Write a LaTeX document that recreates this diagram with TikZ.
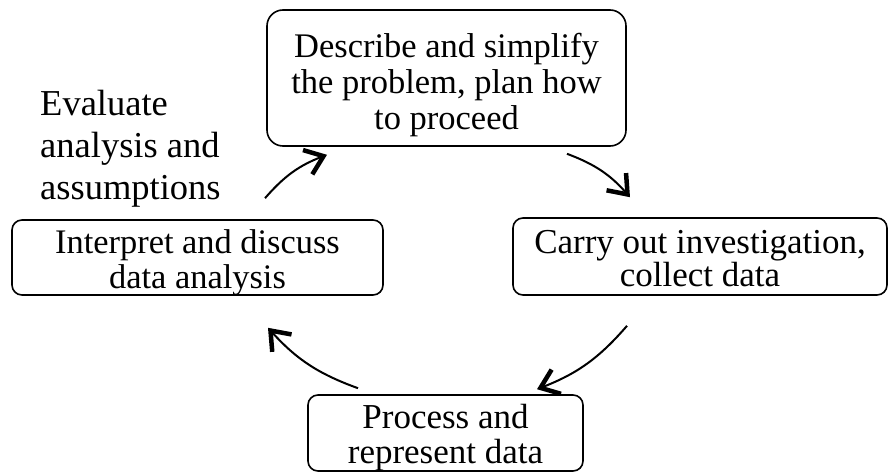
\documentclass[tikz,border=0pt]{standalone}
\usepackage{fontspec}
\setmainfont{Liberation Serif}
\usetikzlibrary{arrows.meta,calc}
\begin{document}
\begin{tikzpicture}[x=1pt,y=-1pt,
  box/.style={draw, line width=1.6pt, rounded corners=10pt, align=center, inner sep=0pt,
    text depth=0pt},
  arr/.style={line width=2pt, -{Straight Barb[length=17pt,width=26pt,line width=4.5pt]}, bend left=14},
  lab/.style={align=left, inner sep=0pt, font=\fontsize{36.5}{42}\selectfont}]
\useasboundingbox (0,0) rectangle (889,473);
\node[box, minimum width=359pt, minimum height=136pt, rounded corners=16pt,
  font=\fontsize{34.5}{36}\selectfont, text height=104pt] (desc) at (446.5,78)
  {Describe and simplify\\the problem, plan how\\to proceed};
\node[box, minimum width=374pt, minimum height=77pt,
  font=\fontsize{35}{31}\selectfont, text height=59pt] (carry) at (700,256.5)
  {Carry out investigation,\\collect data};
\node[box, minimum width=275pt, minimum height=76pt,
  font=\fontsize{35}{35}\selectfont, text height=60pt] (proc) at (445.5,433)
  {Process and\\represent data};
\node[box, minimum width=371pt, minimum height=75pt,
  font=\fontsize{34.4}{35}\selectfont, text height=61.6pt] (interp) at (197.5,257.5)
  {Interpret and discuss\\data analysis};
\node[lab, anchor=base west] (eval) at (40,200) {Evaluate\\analysis and\\assumptions};
\draw[arr] ($(interp.north)+(67.5,-21)$) to ($(desc.south)+(-119.5,8)$);
\draw[arr] ($(desc.south)+(120.5,7)$) to ($(carry.north)+(-70,-20)$);
\draw[arr] ($(carry.south)+(-73,30)$) to ($(proc.north)+(91.5,-5)$);
\draw[arr] ($(proc.north)+(-87.5,-6)$) to ($(interp.south)+(70.5,32)$);
\end{tikzpicture}
\end{document}
